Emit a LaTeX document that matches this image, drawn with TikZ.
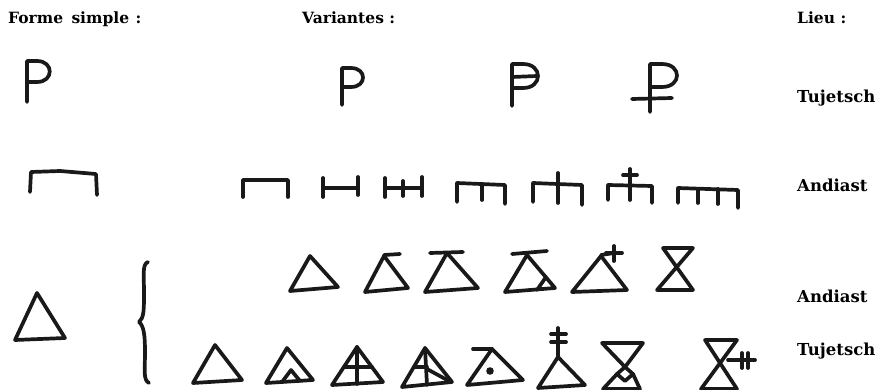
\documentclass[tikz,border=0pt]{standalone}
\usepackage{fontspec}
\usepackage{tikz}
\usetikzlibrary{positioning,calc}
\newfontfamily\lieufont{DejaVu Serif}
\tikzset{
  glyph/.style={line width=3.7pt, line cap=round, line join=round, black!90},
  hdr/.style={anchor=base west, inner sep=0pt, font=\lieufont\bfseries\fontsize{15.5}{18}\selectfont},
  lieu/.style={anchor=base west, inner sep=0pt, font=\lieufont\bfseries\fontsize{16.5}{19}\selectfont},
}

\begin{document}
\begin{tikzpicture}[x=1pt, y=-1pt]
\useasboundingbox (0,0) rectangle (878,390);

\def\xlieu{797}

% ── column headers ─────────────────────────────────────────────────────────
\node[hdr] (hForme) at (8,24) {Forme\hspace{3pt} simple\hspace{1pt} :};
\node[hdr] (hVar) at (302,24) {Variantes :};
\node[hdr] (hLieu) at (\xlieu,24) {Lieu :};

% ── row 1: P ───────────────────────────────────────────────────────────────
\draw[glyph] (27,102) -- (27,61) -- (37,61) .. controls (54,61) and (54,82) .. (37,82) -- (27,82);
\draw[glyph] (342,105) -- (342,68) -- (351,68) .. controls (367,68) and (367,87) .. (351,87) -- (342,87);
\draw[glyph] (512,106) -- (512,64) -- (523,64) .. controls (543,64) and (543,88) .. (523,88) -- (512,88);
\draw[glyph] (512,77) -- (537,76);
\draw[glyph] (650,112) -- (650,64) -- (662,64) .. controls (682,64) and (682,87) .. (662,87) -- (650,87);
\draw[glyph] (632,99) -- (672,98);
\node[lieu] (l1) at (\xlieu,103) {Tujetsch};

% ── row 2: bracket ─────────────────────────────────────────────────────────
\draw[glyph] (30,192) -- (31,172) -- (60,171) -- (96,174) -- (97,195);
\draw[glyph] (243,197) -- (243,180) -- (288,180) -- (288,197);
\draw[glyph] (323,178) -- (323,197);
\draw[glyph] (323,188) -- (358,188);
\draw[glyph] (358,177) -- (358,195);
\draw[glyph] (385,178) -- (385,197);
\draw[glyph] (385,188) -- (422,188);
\draw[glyph] (403,181) -- (403,196);
\draw[glyph] (422,177) -- (422,196);
\draw[glyph] (457,202) -- (457,183) -- (505,185) -- (505,204);
\draw[glyph] (482,184) -- (482,200);
\draw[glyph] (533,202) -- (533,183) -- (582,185) -- (582,205);
\draw[glyph] (558,173) -- (558,203);
\draw[glyph] (608,200) -- (608,185) -- (652,186) -- (652,203);
\draw[glyph] (630,169) -- (630,200);
\draw[glyph] (623,175) -- (637,175);
\draw[glyph] (678,203) -- (678,188) -- (738,190) -- (738,208);
\draw[glyph] (698,189) -- (698,203);
\draw[glyph] (718,189) -- (718,204);
\node[lieu] (l2) at (\xlieu,192) {Andiast};

% ── rows 3/4: triangle ─────────────────────────────────────────────────────
\draw[glyph] (37,293) -- (15,340) -- (65,338) -- cycle;
\draw[glyph] (148,262) .. controls (142,264) and (144,276) .. (144,292)
  .. controls (144,310) and (144,318) .. (139,322)
  .. controls (144,326) and (145,336) .. (145,352)
  .. controls (145,370) and (143,380) .. (149,383);

% Andiast
\draw[glyph] (310,256) -- (290,291) -- (338,287) -- cycle;
\draw[glyph] (384,256) -- (365,292) -- (408,288) -- cycle;
\draw[glyph] (384,255) -- (400,254);
\draw[glyph] (447,253) -- (425,292) -- (478,288) -- cycle;
\draw[glyph] (430,253) -- (463,252);
\draw[glyph] (527,255) -- (505,292) -- (555,288) -- cycle;
\draw[glyph] (512,254) -- (547,251);
\draw[glyph] (537,290) -- (546,277);
\draw[glyph] (601,256) -- (572,292) -- (627,290) -- cycle;
\draw[glyph] (601,255) -- (614,253);
\draw[glyph] (606,253) -- (622,253);
\draw[glyph] (614,246) -- (614,261);
\draw[glyph] (663,248) -- (693,248) -- (657,290) -- (693,290) -- cycle;
\node[lieu] (l3) at (\xlieu,302) {Andiast};

% Tujetsch
\draw[glyph] (215,345) -- (193,383) -- (242,380) -- cycle;
\draw[glyph] (287,348) -- (266,383) -- (313,380) -- cycle;
\draw[glyph] (282,382) -- (291,370) -- (300,381);
\draw[glyph] (357,347) -- (332,385) -- (383,382) -- cycle;
\draw[glyph] (357,347) -- (357,384);
\draw[glyph] (344,367) -- (372,367);
\draw[glyph] (425,348) -- (402,387) -- (452,382) -- cycle;
\draw[glyph] (425,348) -- (427,385);
\draw[glyph] (414,367) -- (427,367);
\draw[glyph] (427,369) -- (449,381);
\draw[glyph] (492,349) -- (467,385) -- (523,380) -- cycle;
\draw[glyph] (473,349) -- (492,349);
\fill[black!90] (490,371) circle (3.8);
\draw[glyph] (558,357) -- (538,388) -- (585,385) -- cycle;
\draw[glyph] (558,357) -- (558,328);
\draw[glyph] (551,334) -- (566,334);
\draw[glyph] (551,342) -- (566,342);
\draw[glyph] (602,343) -- (643,343) -- (625,367) -- cycle;
\draw[glyph] (625,367) -- (617,374) -- (625,381) -- (633,374) -- cycle;
\draw[glyph] (617,374) -- (603,389) -- (640,389) -- (633,374);
\draw[glyph] (705,340) -- (737,340) -- (701,389) -- (737,389) -- cycle;
\draw[glyph] (728,360) -- (755,360);
\draw[glyph] (742,353) -- (742,368);
\draw[glyph] (748,353) -- (748,368);
\node[lieu] (l4) at (\xlieu,355) {Tujetsch};

\end{tikzpicture}
\end{document}
